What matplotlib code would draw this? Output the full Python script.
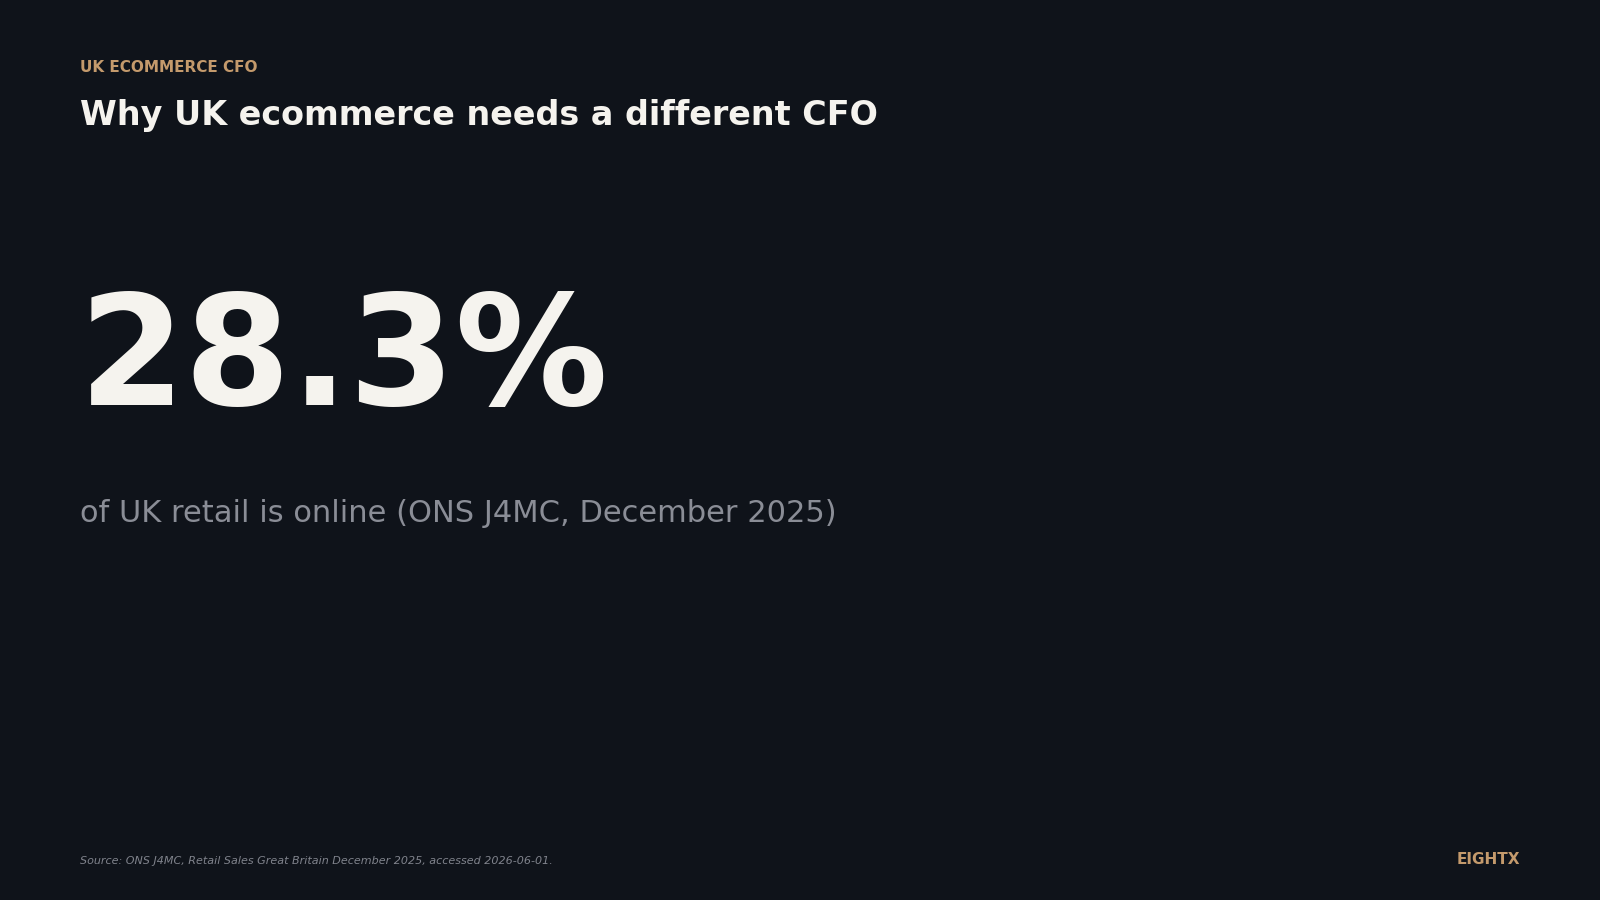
import matplotlib.pyplot as plt

kicker = 'UK ECOMMERCE CFO'
title = 'Why UK ecommerce needs a different CFO'
stat_value = 28.3
stat_label = 'of UK retail is online (ONS J4MC, December 2025)'
source = 'Source: ONS J4MC, Retail Sales Great Britain December 2025, accessed 2026-06-01.'
brand = 'EIGHTX'

bg = '#0f131a'
tan = '#c49a6c'
fig = plt.figure(figsize=(16, 9), dpi=100, facecolor=bg)

fig.text(0.05, 0.925, kicker, color=tan, fontsize=11, fontweight='bold', va='center')
fig.text(0.05, 0.872, title, color='#f5f3ee', fontsize=24, fontweight='bold', va='center')
fig.text(0.049, 0.597, f'{stat_value:.1f}%', color='#f5f3ee', fontsize=110, fontweight='bold', va='center')
fig.text(0.05, 0.43, stat_label, color='#8a8d96', fontsize=22, va='center')
fig.text(0.05, 0.043, source, color='#80838c', fontsize=8, style='italic', va='center')
fig.text(0.95, 0.045, brand, color=tan, fontsize=11, fontweight='bold', va='center', ha='right')

fig.savefig('out.png', facecolor=bg)
